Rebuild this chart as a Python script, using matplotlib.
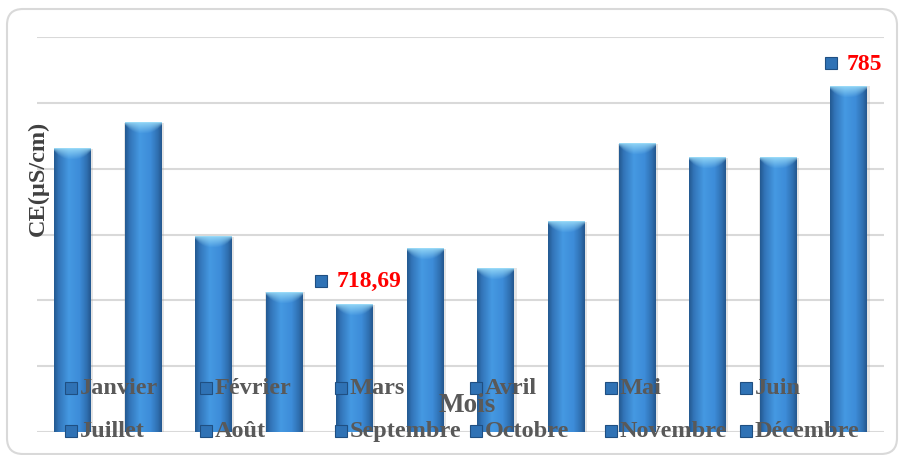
import numpy as np
import matplotlib.pyplot as plt
from matplotlib.colors import LinearSegmentedColormap, to_rgb
from matplotlib.patches import FancyBboxPatch, Rectangle
from matplotlib.transforms import offset_copy, IdentityTransform

plt.rcParams['font.family'] = ['Liberation Serif', 'DejaVu Serif']

mois = ["Janvier", "Février", "Mars", "Avril", "Mai", "Juin",
        "Juillet", "Août", "Septembre", "Octobre", "Novembre", "Décembre"]
ce = [766.0, 773.9, 739.3, 722.5, 718.69, 735.6,
      729.8, 743.8, 767.5, 763.3, 763.3, 785.0]
etiquettes = {4: "718,69", 11: "785"}

y_min, y_max, y_step = 680, 800, 20

W, H = 899, 456
fig = plt.figure(figsize=(W / 100, H / 100), dpi=100)

# rounded frame around the whole chart
frame = FancyBboxPatch((7, 1), 890, 445, boxstyle="round,pad=0,rounding_size=16",
                       transform=IdentityTransform(), fc="white", ec="#d9d9d9", lw=1.5,
                       zorder=-1)
fig.patches.append(frame)

ax = fig.add_axes([37 / W, 1 - 433 / H, 847 / W, 395 / H])
ax.set_facecolor("none")

# cylinder-like shading for the bars
shade = LinearSegmentedColormap.from_list("cyl", [
    (0.00, "#245a92"), (0.12, "#3274b8"), (0.40, "#4599e2"),
    (0.70, "#3d8cd8"), (0.90, "#2f6fb0"), (1.00, "#245890")])
cap = np.array(to_rgb("#a2e2fb"))
px_per_unit = 395 / (y_max - y_min)
width = 0.52


def bar_image(h_px, ncol=48):
    u = np.linspace(0, 1, ncol)
    row = shade(u)[:, :3]
    nrow = max(int(round(h_px)), 2)
    img = np.tile(row, (nrow, 1, 1))
    depth = 3 + 8 * (1 - np.abs(2 * u - 1) ** 2.5)
    for r in range(min(nrow, 12)):
        a = np.clip(1 - r / depth, 0, 1) * 0.8
        if r == 0:
            a = np.full_like(a, 0.9)
        img[r] = img[r] * (1 - a[:, None]) + cap * a[:, None]
    return img


x = np.arange(len(mois))
bars = ax.bar(x, np.array(ce) - y_min, bottom=y_min, width=width,
              color="#3b8ad3", zorder=2)
for b, v in zip(bars, ce):
    l = b.get_x()
    # soft grey shadow behind each bar
    ax.bar(b.get_x() + width / 2 + 0.015, v - y_min, bottom=y_min, width=width + 0.04,
           color="#9a9a9a", alpha=0.25, lw=0, zorder=1.5)
    ax.imshow(bar_image((v - y_min) * px_per_unit), extent=(l, l + width, y_min, v),
              aspect="auto", interpolation="bilinear", zorder=3, origin="upper")

ax.set_xlim(-0.5, len(mois) - 0.5)
ax.set_ylim(y_min, y_max)
ax.set_yticks(np.arange(y_min, y_max + 1, y_step))
ax.yaxis.grid(True, color="#d9d9d9", lw=1.5, zorder=0)
ax.set_axisbelow(True)
ax.set_xticks([])
ax.tick_params(axis="y", length=0, labelleft=False)
for s in ax.spines.values():
    s.set_visible(False)

# value labels with their small key square
decalages = {4: (-18, 24), 11: (-2, 23)}
for i, txt in etiquettes.items():
    dx, dy = decalages[i]
    ax.annotate(txt, (x[i], ce[i]), xytext=(dx, dy), textcoords="offset pixels",
                ha="left", va="center", color="red", fontsize=17, fontweight="bold", zorder=5)
    tr = offset_copy(ax.transData, fig=fig, x=dx - 16, y=dy, units="dots")
    ax.plot([x[i]], [ce[i]], marker="s", ms=8, mfc="#2f72b5", mec="#1f4f82",
            mew=0.8, transform=tr, zorder=5, clip_on=False)

# legend laid out in two rows of six
for i, m in enumerate(mois):
    col, row = i % 6, i // 6
    mx = 65 + 135 * col
    my = 389 + 43 * row
    fig.patches.append(Rectangle((mx, H - my - 6), 12, 12, transform=IdentityTransform(),
                                 fc="#2f72b5", ec="#1f4f82", lw=0.8, zorder=6))
    fig.text((mx + 15) / W, 1 - my / H, m, ha="left", va="center", color="#595959",
             fontsize=17.5, fontweight="bold", zorder=6)

fig.text(467 / W, 1 - 405 / H, "Mois", ha="center", va="center", color="#595959",
         fontsize=19.5, fontweight="bold", zorder=6)
fig.text(38 / W, 1 - 178 / H, "CE(µS/cm)", ha="center", va="center", rotation=90,
         color="#404040", fontsize=17.5, fontweight="bold")

fig.savefig("out.png", dpi=100)
